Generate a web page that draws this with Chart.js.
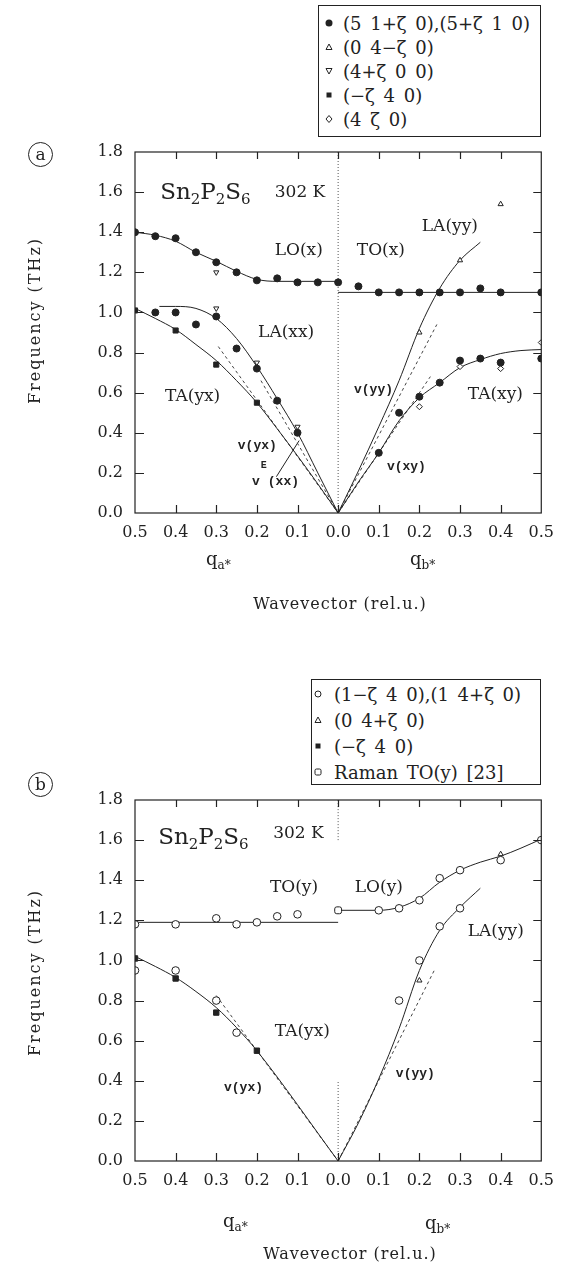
<!DOCTYPE html>
<html>
<head>
<meta charset="utf-8">
<script src="https://cdn.jsdelivr.net/npm/chart.js@4.4.0/dist/chart.umd.min.js"></script>
<style>
  body { margin: 0; background: #fff; }
  #page { position: relative; width: 564px; height: 1268px; font-family: "DejaVu Serif", serif; color: #222; }
  .panel { position: absolute; left: 0; width: 564px; height: 634px; }
  .legend { position: absolute; border: 1.5px solid #222; background: #fff; font-size: 18px; word-spacing: 3px; box-sizing: border-box; }
  .legend .row { display: flex; align-items: center; white-space: pre; }
  .legend svg { flex: none; }
  .tag { position: absolute; width: 25px; height: 25px; border: 1px solid #222; border-radius: 50%;
         text-align: center; line-height: 23px; font-size: 17px; box-sizing: border-box; }
</style>
</head>
<body>
<div id="page">
  <div class="panel" style="top:0"><canvas id="chartA" width="564" height="634"></canvas></div>
  <div class="panel" style="top:634px"><canvas id="chartB" width="564" height="634"></canvas></div>

  <div class="tag" style="left:28px;top:142px">a</div>
  <div class="tag" style="left:28px;top:772px">b</div>

  <div class="legend" style="left:318px;top:5px;width:223px;height:132px;padding-top:5px">
    <div class="row" style="height:24px"><svg width="22" height="10" style="margin-right:2px"><circle cx="10" cy="5" r="3.5" fill="#222"/></svg>(5 1+ζ 0),(5+ζ 1 0)</div>
    <div class="row" style="height:24px"><svg width="22" height="10" style="margin-right:2px"><path d="M10 2 L13 7.5 L7 7.5 Z" fill="#fff" stroke="#222"/></svg>(0 4−ζ 0)</div>
    <div class="row" style="height:24px"><svg width="22" height="10" style="margin-right:2px"><path d="M10 8 L13 2.5 L7 2.5 Z" fill="#fff" stroke="#222"/></svg>(4+ζ 0 0)</div>
    <div class="row" style="height:24px"><svg width="22" height="10" style="margin-right:2px"><rect x="7.5" y="2.5" width="5" height="5" fill="#222"/></svg>(−ζ 4 0)</div>
    <div class="row" style="height:24px"><svg width="22" height="10" style="margin-right:2px"><path d="M10 1.5 L13 5 L10 8.5 L7 5 Z" fill="#fff" stroke="#222"/></svg>(4 ζ 0)</div>
  </div>

  <div class="legend" style="left:311px;top:679px;width:230px;height:106px;padding-top:1px">
    <div class="row" style="height:26px"><svg width="14" height="10" style="margin-right:8px"><circle cx="6" cy="5" r="3" fill="#fff" stroke="#222"/></svg>(1−ζ 4 0),(1 4+ζ 0)</div>
    <div class="row" style="height:26px"><svg width="14" height="10" style="margin-right:8px"><path d="M6 2 L9 7.5 L3 7.5 Z" fill="#fff" stroke="#222"/></svg>(0 4+ζ 0)</div>
    <div class="row" style="height:26px"><svg width="14" height="10" style="margin-right:8px"><rect x="3.5" y="2.5" width="5" height="5" fill="#222"/></svg>(−ζ 4 0)</div>
    <div class="row" style="height:26px"><svg width="14" height="10" style="margin-right:8px"><rect x="3" y="2" width="6" height="6" rx="1.5" fill="#fff" stroke="#222"/></svg>Raman TO(y) [23]</div>
  </div>
</div>

<script>
// q is in r.l.u.: negative values run along a*, positive along b*; f in THz

// ---- panel (a) measured points ----
const aLOxQ = [-0.5, -0.45, -0.4, -0.35, -0.3, -0.25, -0.2, -0.15, -0.1, -0.05, 0];
const aLOxF = [1.40, 1.38, 1.37, 1.30, 1.25, 1.20, 1.16, 1.17, 1.15, 1.15, 1.15];
const aTOxQ = [0.05, 0.1, 0.15, 0.2, 0.25, 0.3, 0.35, 0.4, 0.5];
const aTOxF = [1.13, 1.10, 1.10, 1.10, 1.10, 1.10, 1.12, 1.10, 1.10];
const aLAxxQ = [-0.45, -0.4, -0.35, -0.3, -0.25, -0.2, -0.15, -0.1];
const aLAxxF = [1.00, 1.00, 0.94, 0.98, 0.82, 0.72, 0.56, 0.40];
const aTAxyQ = [0.1, 0.15, 0.2, 0.25, 0.3, 0.35, 0.4, 0.5];
const aTAxyF = [0.30, 0.50, 0.58, 0.65, 0.76, 0.77, 0.75, 0.77];
const aTriUpQ = [0.2, 0.3, 0.4];
const aTriUpF = [0.90, 1.26, 1.54];
const aTriDownQ = [-0.3, -0.3, -0.2, -0.1];
const aTriDownF = [1.20, 1.02, 0.75, 0.43];
const aSquareQ = [-0.5, -0.4, -0.3, -0.2];
const aSquareF = [1.01, 0.91, 0.74, 0.55];
const aDiamondQ = [0.2, 0.3, 0.4, 0.5];
const aDiamondF = [0.53, 0.73, 0.72, 0.85];

// ---- panel (a) fitted branches ----
const aFitLOxQ = [-0.5, -0.45, -0.4, -0.35, -0.3, -0.25, -0.2, -0.15, -0.1, 0];
const aFitLOxF = [1.40, 1.385, 1.355, 1.30, 1.255, 1.205, 1.165, 1.155, 1.155, 1.155];
const aFitTOxQ = [0, 0.5];
const aFitTOxF = [1.10, 1.10];
const aFitLAxxQ = [-0.44, -0.4, -0.35, -0.3, -0.25, -0.2, -0.15, -0.1, -0.05, 0];
const aFitLAxxF = [1.03, 1.03, 1.02, 0.97, 0.87, 0.73, 0.57, 0.40, 0.20, 0];
const aFitTAyxQ = [-0.5, -0.45, -0.4, -0.35, -0.3, -0.25, -0.2, -0.15, -0.1, -0.05, 0];
const aFitTAyxF = [1.02, 0.97, 0.915, 0.84, 0.76, 0.66, 0.55, 0.42, 0.285, 0.145, 0];
const aFitLAyyQ = [0, 0.05, 0.1, 0.15, 0.2, 0.25, 0.3, 0.35];
const aFitLAyyF = [0, 0.21, 0.43, 0.66, 0.92, 1.12, 1.26, 1.35];
const aFitTAxyQ = [0, 0.05, 0.1, 0.15, 0.2, 0.25, 0.3, 0.35, 0.4, 0.45, 0.5];
const aFitTAxyF = [0, 0.155, 0.30, 0.46, 0.575, 0.65, 0.725, 0.765, 0.795, 0.81, 0.815];
// sound velocity slopes (dashed)
const aVyxQ = [-0.295, 0];
const aVyxF = [0.83, 0];
const aVExxQ = [-0.19, 0];
const aVExxF = [0.66, 0];
const aVyyQ = [0, 0.243];
const aVyyF = [0, 0.94];
const aVxyQ = [0, 0.227];
const aVxyF = [0, 0.68];
const aPointerQ = [-0.152, -0.096];
const aPointerF = [0.181, 0.361];

// ---- panel (b) measured points ----
const bCircleQ = [-0.5, -0.4, -0.3, -0.25, -0.2, -0.15, -0.1, 0.1, 0.15, 0.2, 0.25, 0.3, 0.4, 0.5,
                  0.15, 0.2, 0.25, 0.3, -0.5, -0.4, -0.3, -0.25];
const bCircleF = [1.18, 1.18, 1.21, 1.18, 1.19, 1.22, 1.23, 1.25, 1.26, 1.30, 1.41, 1.45, 1.50, 1.60,
                  0.80, 1.00, 1.17, 1.26, 0.95, 0.95, 0.80, 0.64];
const bTriUpQ = [0.2, 0.3, 0.4];
const bTriUpF = [0.90, 1.26, 1.53];
const bSquareQ = [-0.5, -0.4, -0.3, -0.2];
const bSquareF = [1.01, 0.91, 0.74, 0.55];
const bRamanQ = [0];
const bRamanF = [1.25];

// ---- panel (b) fitted branches ----
const bFitTOyQ = [-0.5, 0];
const bFitTOyF = [1.19, 1.19];
const bFitLOyQ = [0, 0.1, 0.15, 0.2, 0.25, 0.3, 0.35, 0.4, 0.45, 0.5];
const bFitLOyF = [1.25, 1.25, 1.265, 1.31, 1.39, 1.45, 1.49, 1.52, 1.56, 1.605];
const bFitLAyyQ = [0, 0.05, 0.1, 0.15, 0.2, 0.25, 0.3, 0.35];
const bFitLAyyF = [0, 0.19, 0.41, 0.66, 0.95, 1.15, 1.265, 1.36];
const bFitTAyxQ = [-0.5, -0.45, -0.4, -0.35, -0.3, -0.25, -0.2, 0];
const bFitTAyxF = [1.02, 0.97, 0.915, 0.845, 0.765, 0.665, 0.55, 0];
const bVyxQ = [-0.3, 0];
const bVyxF = [0.825, 0];
const bVyyQ = [0, 0.239];
const bVyyF = [0, 0.96];

const yTicks = [0, 0.2, 0.4, 0.6, 0.8, 1.0, 1.2, 1.4, 1.6, 1.8];

const ink = '#222';
const serif = '"DejaVu Serif", serif';
const mono = 'bold 13px "Liberation Mono", monospace';

const pts = (q, f) => q.map((v, i) => ({ x: v, y: f[i] }));

function marks(q, f, style) {
  return Object.assign({
    data: pts(q, f), showLine: false, pointRadius: 3.5, pointBorderWidth: 1,
    pointBorderColor: ink, pointBackgroundColor: ink
  }, style);
}
function curve(q, f, extra) {
  return Object.assign({
    data: pts(q, f), showLine: true, pointRadius: 0, borderColor: ink, borderWidth: 1,
    cubicInterpolationMode: 'monotone', fill: false
  }, extra);
}
const dashed = { borderDash: [3, 3], borderColor: '#444' };
const dotted = { borderDash: [1, 2], borderColor: '#555', cubicInterpolationMode: 'default', tension: 0 };
const open = { pointBackgroundColor: '#fff' };

// frame with inward tick marks on all four sides
const framePlugin = {
  id: 'frame',
  afterDatasetsDraw(chart) {
    const { ctx, chartArea: a, scales: { x, y } } = chart;
    ctx.save();
    ctx.strokeStyle = ink;
    ctx.lineWidth = 1.2;
    ctx.strokeRect(a.left, a.top, a.right - a.left, a.bottom - a.top);
    ctx.beginPath();
    x.ticks.forEach(t => {
      const px = Math.round(x.getPixelForValue(t.value)) + 0.5;
      if (px <= a.left + 1 || px >= a.right - 1) return;
      ctx.moveTo(px, a.bottom); ctx.lineTo(px, a.bottom - 8);
      ctx.moveTo(px, a.top); ctx.lineTo(px, a.top + 7);
    });
    y.ticks.forEach(t => {
      const py = Math.round(y.getPixelForValue(t.value)) + 0.5;
      if (py >= a.bottom - 1 || py <= a.top + 1) return;
      ctx.moveTo(a.left, py); ctx.lineTo(a.left + 9, py);
      ctx.moveTo(a.right, py); ctx.lineTo(a.right - 8, py);
    });
    ctx.stroke();
    ctx.restore();
  }
};

function drawRuns(ctx, x, y, runs) {
  let cx = x;
  runs.forEach(r => {
    ctx.font = r.font;
    ctx.fillText(r.t, cx, y + (r.dy || 0));
    cx += ctx.measureText(r.t).width + (r.gap || 0);
  });
}

const big = `23px ${serif}`, small = `15px ${serif}`, lab = `17px ${serif}`;
const formula = [
  { t: 'Sn', font: big }, { t: '2', font: small, dy: 7 },
  { t: 'P', font: big }, { t: '2', font: small, dy: 7 },
  { t: 'S', font: big }, { t: '6', font: small, dy: 7 }
];

// text labels inside and around the plot
function notesPlugin(items, titles) {
  return {
    id: 'notes',
    afterDraw(chart) {
      const { ctx, chartArea: a, scales: { x, y } } = chart;
      ctx.save();
      ctx.fillStyle = ink;
      ctx.textBaseline = 'middle';
      ctx.textAlign = 'left';
      items.forEach(it => drawRuns(ctx, x.getPixelForValue(it.q), y.getPixelForValue(it.f), it.runs));

      // q labels under each half of the axis
      const q = `18px ${serif}`, sub = `12px ${serif}`;
      drawRuns(ctx, titles.qa, a.bottom + titles.qaDy, [{ t: 'q', font: q }, { t: 'a*', font: sub, dy: 6 }]);
      drawRuns(ctx, titles.qb, a.bottom + titles.qbDy, [{ t: 'q', font: q }, { t: 'b*', font: sub, dy: 6 }]);

      ctx.font = `16px ${serif}`;
      ctx.letterSpacing = '1px';
      ctx.textAlign = 'center';
      ctx.fillText('Wavevector (rel.u.)', titles.wx, a.bottom + titles.wDy);

      ctx.letterSpacing = '2px';
      ctx.translate(36, y.getPixelForValue(titles.fMid));
      ctx.rotate(-Math.PI / 2);
      ctx.fillText('Frequency (THz)', 0, 0);
      ctx.restore();
    }
  };
}

function panelChart(id, datasets, pad, items, titles) {
  return new Chart(document.getElementById(id), {
    type: 'scatter',
    data: { datasets },
    options: {
      responsive: false,
      animation: false,
      devicePixelRatio: 1,
      layout: { padding: pad },
      plugins: { legend: { display: false }, tooltip: { enabled: false } },
      elements: { line: { tension: 0.4 } },
      scales: {
        x: {
          type: 'linear', min: -0.5, max: 0.5,
          afterFit: s => { s.height = 40; },
          grid: { display: false, drawTicks: false },
          border: { display: false },
          ticks: {
            stepSize: 0.1, padding: 10, color: ink, autoSkip: false, maxRotation: 0,
            font: { family: serif, size: 16 },
            callback: v => Math.abs(v).toFixed(1)
          }
        },
        y: {
          type: 'linear', min: 0, max: 1.8,
          afterFit: s => { s.width = 135; },
          afterBuildTicks: s => { s.ticks = yTicks.map(v => ({ value: v })); },
          grid: { display: false, drawTicks: false },
          border: { display: false },
          ticks: {
            padding: 12, color: ink,
            font: { family: serif, size: 16 },
            callback: v => v.toFixed(1)
          }
        }
      }
    },
    plugins: [framePlugin, notesPlugin(items, titles)]
  });
}

// ---- panel (a) ----
panelChart('chartA', [
  marks(aLOxQ.concat(aTOxQ, aLAxxQ, aTAxyQ), aLOxF.concat(aTOxF, aLAxxF, aTAxyF), {}),
  marks(aTriUpQ, aTriUpF, Object.assign({ pointStyle: 'triangle', pointRadius: 3 }, open)),
  marks(aTriDownQ, aTriDownF, Object.assign({ pointStyle: 'triangle', pointRadius: 3, pointRotation: 180 }, open)),
  marks(aSquareQ, aSquareF, { pointStyle: 'rect', pointRadius: 3.6 }),
  marks(aDiamondQ, aDiamondF, Object.assign({ pointStyle: 'rectRot', pointRadius: 3 }, open)),
  curve(aFitLOxQ, aFitLOxF),
  curve(aFitTOxQ, aFitTOxF),
  curve(aFitLAxxQ, aFitLAxxF),
  curve(aFitTAyxQ, aFitTAyxF),
  curve(aFitLAyyQ, aFitLAyyF),
  curve(aFitTAxyQ, aFitTAxyF),
  curve(aVyxQ, aVyxF, dashed),
  curve(aVExxQ, aVExxF, dashed),
  curve(aVyyQ, aVyyF, dashed),
  curve(aVxyQ, aVxyF, dashed),
  curve(aPointerQ, aPointerF),
  curve([0, 0], [0, 1.8], dotted)
], { left: 0, right: 22.5, top: 152, bottom: 81 }, [
  { q: -0.438, f: 1.596, runs: formula },
  { q: -0.156, f: 1.60, runs: [{ t: '302 K', font: lab }] },
  { q: -0.156, f: 1.31, runs: [{ t: 'LO(x)', font: lab }] },
  { q: 0.046, f: 1.31, runs: [{ t: 'TO(x)', font: lab }] },
  { q: 0.206, f: 1.43, runs: [{ t: 'LA(yy)', font: lab }] },
  { q: -0.197, f: 0.90, runs: [{ t: 'LA(xx)', font: lab }] },
  { q: -0.426, f: 0.58, runs: [{ t: 'TA(yx)', font: lab }] },
  { q: 0.319, f: 0.59, runs: [{ t: 'TA(xy)', font: lab }] },
  { q: -0.247, f: 0.334, runs: [{ t: 'v(yx)', font: mono }] },
  { q: -0.212, f: 0.155, runs: [{ t: 'v', font: mono, gap: 1 }, { t: 'E', font: 'bold 10px "Liberation Mono", monospace', dy: -16, gap: 1 }, { t: '(xx)', font: mono }] },
  { q: 0.039, f: 0.613, runs: [{ t: 'v(yy)', font: mono }] },
  { q: 0.12, f: 0.23, runs: [{ t: 'v(xy)', font: mono }] }
], { qa: 206, qaDy: 47, qb: 410, qbDy: 47, wx: 340, wDy: 92, fMid: 0.96 });

// ---- panel (b) ----
panelChart('chartB', [
  marks(bCircleQ, bCircleF, Object.assign({ pointRadius: 3.8 }, open)),
  marks(bTriUpQ, bTriUpF, Object.assign({ pointStyle: 'triangle', pointRadius: 3 }, open)),
  marks(bSquareQ, bSquareF, { pointStyle: 'rect', pointRadius: 3.8 }),
  marks(bRamanQ, bRamanF, Object.assign({ pointStyle: 'rectRounded', pointRadius: 4 }, open)),
  curve(bFitTOyQ, bFitTOyF),
  curve(bFitLOyQ, bFitLOyF),
  curve(bFitLAyyQ, bFitLAyyF),
  curve(bFitTAyxQ, bFitTAyxF),
  curve(bVyxQ, bVyxF, dashed),
  curve(bVyyQ, bVyyF, dashed),
  curve([0, 0], [0, 0.4], dotted),
  curve([0, 0], [1.6, 1.8], dotted)
], { left: 0, right: 22.5, top: 166, bottom: 67 }, [
  { q: -0.443, f: 1.612, runs: formula },
  { q: -0.16, f: 1.635, runs: [{ t: '302 K', font: lab }] },
  { q: -0.168, f: 1.365, runs: [{ t: 'TO(y)', font: lab }] },
  { q: 0.041, f: 1.365, runs: [{ t: 'LO(y)', font: lab }] },
  { q: 0.319, f: 1.146, runs: [{ t: 'LA(yy)', font: lab }] },
  { q: -0.156, f: 0.643, runs: [{ t: 'TA(yx)', font: lab }] },
  { q: -0.281, f: 0.364, runs: [{ t: 'v(yx)', font: mono }] },
  { q: 0.142, f: 0.434, runs: [{ t: 'v(yy)', font: mono }] }
], { qa: 223, qaDy: 61, qb: 425, qbDy: 63, wx: 350, wDy: 94, fMid: 0.94 });
</script>
</body>
</html>
